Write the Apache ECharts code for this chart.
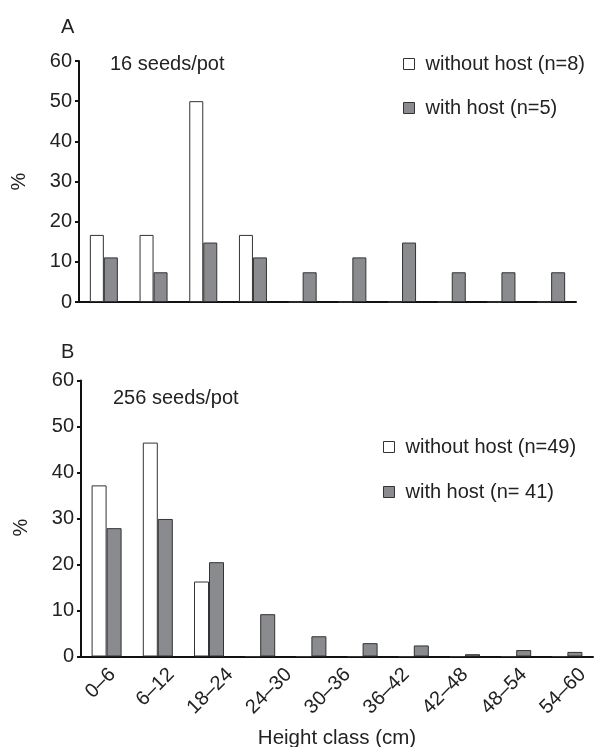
<!DOCTYPE html>
<html>
<head>
<meta charset="utf-8">
<script src="https://cdn.jsdelivr.net/npm/echarts@6/dist/echarts.min.js"></script>
<style>
  html, body { margin: 0; padding: 0; background: #fff; }
  #chart { width: 595px; height: 747px; }
</style>
</head>
<body>
<div id="chart"></div>
<script>
// Height classes (cm) of the bars, and the tick labels printed under panel B
const classes = ['0–6', '6–12', '12–18', '18–24', '24–30', '30–36', '36–42', '42–48', '48–54', '54–60'];
const tickLabels = ['0–6', '6–12', '18–24', '24–30', '30–36', '36–42', '42–48', '48–54', '54–60'];

// Panel A: 16 seeds/pot (% of plants per height class)
const lowWithout = [16.7, 16.7, 50.0, 16.7, 0, 0, 0, 0, 0, 0];
const lowWith    = [11.1, 7.4, 14.8, 11.1, 7.4, 11.1, 14.8, 7.4, 7.4, 7.4];

// Panel B: 256 seeds/pot
const highWithout = [37.2, 46.5, 16.3, 0, 0, 0, 0, 0, 0, 0];
const highWith    = [27.9, 29.9, 20.5, 9.2, 4.4, 2.9, 2.4, 0.5, 1.4, 1.0];

const seriesNames = {
  lowWithout: 'without host (n=8)',
  lowWith: 'with host (n=5)',
  highWithout: 'without host (n=49)',
  highWith: 'with host (n= 41)'
};

const FONT = 'Liberation Sans, Arial, Helvetica, sans-serif';
const INK = '#222';
const GREY = '#8a8b8e';
const FS = 20;

const chart = echarts.init(document.getElementById('chart'), null, { renderer: 'canvas' });

function valueAxis(gridIndex, namePad) {
  return {
    type: 'value', gridIndex, min: 0, max: 60, interval: 10,
    name: '%', nameLocation: 'middle', nameGap: 50,
    nameTextStyle: { fontFamily: FONT, fontSize: FS, color: INK, padding: namePad },
    axisLine: { show: true, lineStyle: { color: '#111', width: 2 } },
    axisTick: { show: true, inside: false, length: 4, lineStyle: { color: '#111', width: 2 } },
    axisLabel: { fontFamily: FONT, fontSize: FS, color: INK, margin: 7 },
    splitLine: { show: false }
  };
}

function classAxis(gridIndex, extra) {
  return Object.assign({
    type: 'category', gridIndex, data: classes, boundaryGap: true,
    axisLine: { show: true, lineStyle: { color: '#111', width: 2 } },
    axisTick: { show: false },
    axisLabel: { show: false },
    splitLine: { show: false }
  }, extra || {});
}

function plainTitle(text, left, top) {
  return { text, left, top, padding: 0,
    textStyle: { fontFamily: FONT, fontSize: FS, fontWeight: 'normal', color: INK } };
}

const whiteStyle = { color: '#fff', borderColor: '#333', borderWidth: 1 };
const greyStyle = { color: GREY, borderColor: '#333', borderWidth: 1 };

const legendBase = {
  orient: 'vertical', padding: 0,
  icon: 'rect', itemWidth: 11, itemHeight: 11,
  selectedMode: false,
  textStyle: { fontFamily: FONT, fontSize: FS, color: INK, padding: [0, 0, 0, 6] }
};

const option = {
  backgroundColor: '#fff',
  animation: false,
  textStyle: { fontFamily: FONT },
  title: [
    plainTitle('A', 61, 17),
    plainTitle('16 seeds/pot', 110, 54),
    plainTitle('B', 61, 342),
    plainTitle('256 seeds/pot', 113, 388)
  ],
  legend: [
    Object.assign({}, legendBase, {
      data: [
        { name: seriesNames.lowWithout, itemStyle: whiteStyle },
        { name: seriesNames.lowWith, itemStyle: greyStyle }
      ],
      left: 403, top: 54, itemGap: 24
    }),
    Object.assign({}, legendBase, {
      data: [
        { name: seriesNames.highWithout, itemStyle: whiteStyle },
        { name: seriesNames.highWith, itemStyle: greyStyle }
      ],
      left: 383, top: 437, itemGap: 25
    })
  ],
  grid: [
    { left: 79, top: 61, width: 497, height: 241, outerBoundsMode: 'none' },
    { left: 81, top: 380.5, width: 512, height: 276, outerBoundsMode: 'none' },
    // frame for the printed class labels under panel B
    { left: 83, top: 380.5, width: 529, height: 276, outerBoundsMode: 'none' }
  ],
  xAxis: [
    classAxis(0),
    classAxis(1, {
      name: 'Height class (cm)', nameLocation: 'middle', nameGap: 71,
      nameTextStyle: { fontFamily: FONT, fontSize: 20.5, color: INK }
    }),
    {
      type: 'category', gridIndex: 2, data: tickLabels, boundaryGap: true,
      axisLine: { show: false }, axisTick: { show: false }, splitLine: { show: false },
      axisLabel: { show: true, interval: 0, rotate: 45, margin: 15, fontFamily: FONT, fontSize: FS, color: INK }
    }
  ],
  yAxis: [
    valueAxis(0, [0, 0, 0, 0]),
    valueAxis(1, [0, 18, 0, 0]),
    { type: 'value', gridIndex: 2, min: 0, max: 60, show: false }
  ],
  series: [
    { name: seriesNames.lowWithout, type: 'bar', xAxisIndex: 0, yAxisIndex: 0, data: lowWithout,
      barWidth: 14, barGap: '0%', itemStyle: whiteStyle },
    { name: seriesNames.lowWith, type: 'bar', xAxisIndex: 0, yAxisIndex: 0, data: lowWith,
      barWidth: 14, barGap: '0%', itemStyle: greyStyle },
    { name: seriesNames.highWithout, type: 'bar', xAxisIndex: 1, yAxisIndex: 1, data: highWithout,
      barWidth: 15, barGap: '0%', itemStyle: whiteStyle },
    { name: seriesNames.highWith, type: 'bar', xAxisIndex: 1, yAxisIndex: 1, data: highWith,
      barWidth: 15, barGap: '0%', itemStyle: greyStyle }
  ]
};

chart.setOption(option);
</script>
</body>
</html>
